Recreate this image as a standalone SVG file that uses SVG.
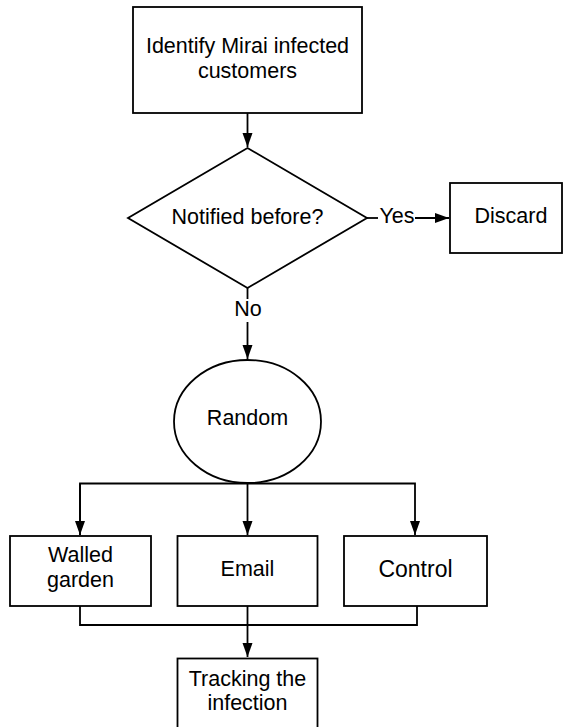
<svg xmlns="http://www.w3.org/2000/svg" width="563" height="727" viewBox="0 0 563 727">
<style>
.s{fill:#fff;stroke:#000;stroke-width:1.8}
.t{font-family:"Liberation Sans",Arial,sans-serif;font-size:21.5px;fill:#000;text-anchor:middle}
.c{fill:none;stroke:#000;stroke-width:1.8}
</style>
<defs>
<marker id="a" markerUnits="userSpaceOnUse" markerWidth="16" markerHeight="12" refX="14" refY="5" orient="auto">
<path d="M0,0 L14,5 L0,10 z" fill="#000"/>
</marker>
</defs>
<rect width="563" height="727" fill="#fff"/>
<g id="connectors">
<path class="c" d="M247.5,113 V147" marker-end="url(#a)"/>
<path class="c" d="M367,218 H378"/>
<path class="c" d="M415,218 H449" marker-end="url(#a)"/>
<path class="c" d="M247.5,288 V299"/>
<path class="c" d="M247.5,322 V359" marker-end="url(#a)"/>
<path class="c" d="M80,535 V483.5 H415 V535" marker-end="url(#a)"/>
<path class="c" d="M80,483.5 V535" marker-end="url(#a)"/>
<path class="c" d="M247.5,483.5 V535" marker-end="url(#a)"/>
<path class="c" d="M80,606 V625 H417 V606"/>
<path class="c" d="M247.5,606 V657" marker-end="url(#a)"/>
<text class="t" x="397" y="222.5">Yes</text>
<text class="t" x="248" y="316">No</text>
</g>
<g id="identify">
<rect class="s" x="133" y="7" width="229" height="106"/>
<text class="t" x="247.5" y="52.5">Identify Mirai infected</text>
<text class="t" x="247.5" y="77.5">customers</text>
</g>
<g id="notified">
<polygon class="s" points="247.5,148 367,218 247.5,288 128,218"/>
<text class="t" x="247.5" y="223.5">Notified before?</text>
</g>
<g id="discard">
<rect class="s" x="450" y="183" width="112" height="70"/>
<text class="t" x="511" y="223">Discard</text>
</g>
<g id="random">
<ellipse class="s" cx="247.5" cy="421.5" rx="73.5" ry="61.5"/>
<text class="t" x="247.5" y="425">Random</text>
</g>
<g id="walled">
<rect class="s" x="10" y="536" width="141" height="70"/>
<text class="t" x="80.5" y="562">Walled</text>
<text class="t" x="80.5" y="587">garden</text>
</g>
<g id="email">
<rect class="s" x="177.5" y="536" width="140" height="70"/>
<text class="t" x="247.5" y="576">Email</text>
</g>
<g id="control">
<rect class="s" x="344" y="536" width="143" height="70"/>
<text class="t" x="415.5" y="576.5" style="font-size:23px">Control</text>
</g>
<g id="tracking">
<rect class="s" x="177.5" y="658.5" width="140" height="75"/>
<text class="t" x="247.5" y="685.5">Tracking the</text>
<text class="t" x="247.5" y="710">infection</text>
</g>
</svg>
